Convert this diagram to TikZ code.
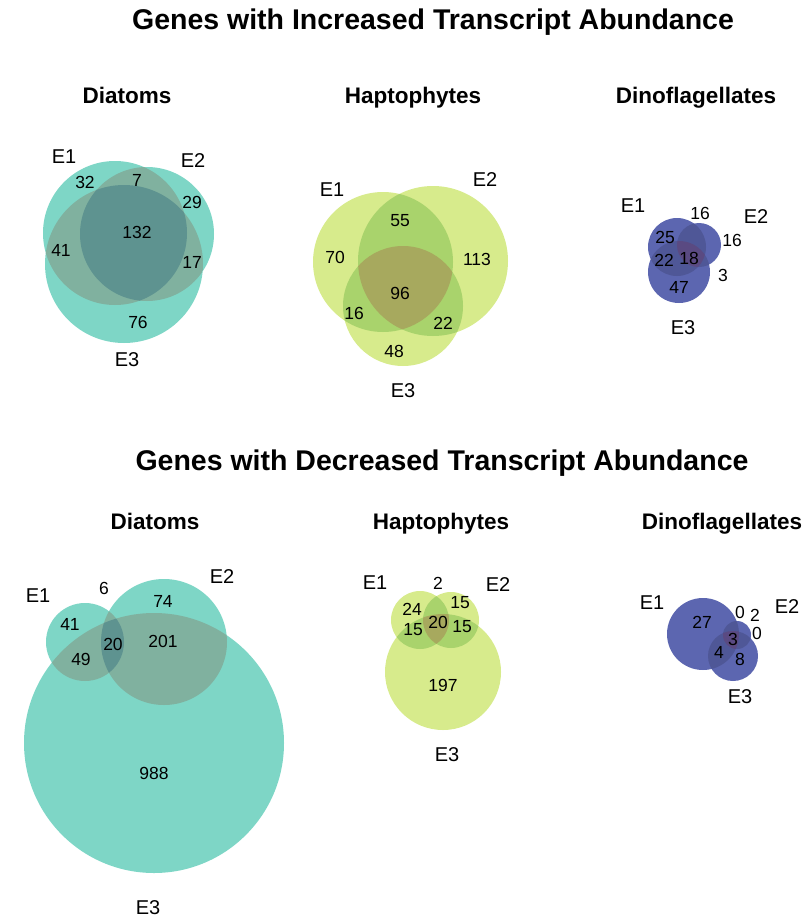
\documentclass[tikz,border=0pt]{standalone}
\usepackage{fontspec}
\setmainfont{Liberation Sans}
\definecolor{DiaSingle}{HTML}{7ED6C6}
\definecolor{DiaPair}{HTML}{80B19F}
\definecolor{DiaTriple}{HTML}{5E9390}
\definecolor{HapSingle}{HTML}{D7EB8C}
\definecolor{HapPair}{HTML}{A9D36C}
\definecolor{HapTriple}{HTML}{A7A95E}
\definecolor{DinSingle}{HTML}{5C66B0}
\definecolor{DinPair}{HTML}{4F5797}
\definecolor{DinTriple}{HTML}{5A4A82}
% three overlapping sets: centre/radius pairs, then colour prefix
\newcommand{\vennfill}[7]{%
  \fill[#7Single] #1 circle (#2) #3 circle (#4) #5 circle (#6);
  \begin{scope}\clip #1 circle (#2); \fill[#7Pair] #3 circle (#4) #5 circle (#6);\end{scope}
  \begin{scope}\clip #3 circle (#4); \fill[#7Pair] #5 circle (#6);\end{scope}
  \begin{scope}\clip #1 circle (#2); \clip #3 circle (#4); \fill[#7Triple] #5 circle (#6);\end{scope}
}

\begin{document}
\begin{tikzpicture}[x=1pt,y=-1pt,
  maintitle/.style={font=\bfseries\fontsize{28.5}{30}\selectfont,anchor=base,inner sep=0pt},
  grouptitle/.style={font=\bfseries\fontsize{22.5}{24}\selectfont,anchor=base,inner sep=0pt},
  num/.style={font=\fontsize{17.5}{18}\selectfont,inner sep=0pt},
  setlbl/.style={font=\fontsize{20}{22}\selectfont,inner sep=0pt}]
\useasboundingbox (0,0) rectangle (805,923);
% Headings of the two rows and of the three groups in each.
\node[maintitle] (inc) at (433,30) {Genes with Increased Transcript Abundance};
\node[maintitle] (dec) at (442,470) {Genes with Decreased Transcript Abundance};
\node[grouptitle] (diaup) at (127,104) {Diatoms};
\node[grouptitle] (hapup) at (413,104) {Haptophytes};
\node[grouptitle] (dinup) at (696,104) {Dinoflagellates};
\node[grouptitle] (diadn) at (155,529) {Diatoms};
\node[grouptitle] (hapdn) at (441,529) {Haptophytes};
\node[grouptitle] (dindn) at (722,529) {Dinoflagellates};

% Diatoms, increased
\vennfill{(115,233)}{72pt}{(147,234)}{67pt}{(124,264)}{79pt}{Dia}
\foreach \x/\y/\t [count=\i] in {85/182/32,137/180/7,192/202/29,137/232/132,61/250/41,192/262/17,138/322/76}
  {\node[num] (diaupn\i) at (\x,\y) {\t};}
\node[setlbl] (diaupE1) at (64,157) {E1};
\node[setlbl] (diaupE2) at (193,161) {E2};
\node[setlbl] (diaupE3) at (127,360) {E3};

% Haptophytes, increased
\vennfill{(383,262)}{70pt}{(433,261)}{75pt}{(403,306)}{60pt}{Hap}
\foreach \x/\y/\t [count=\i] in {400/221/55,335/257/70,477/259/113,400/293/96,354/313/16,443/323/22,394/351/48}
  {\node[num] (hapupn\i) at (\x,\y) {\t};}
\node[setlbl] (hapupE1) at (332,190) {E1};
\node[setlbl] (hapupE2) at (485,180) {E2};
\node[setlbl] (hapupE3) at (403,391) {E3};

% Dinoflagellates, increased
\vennfill{(677,247)}{29pt}{(699,245)}{22pt}{(679,272)}{31pt}{Din}
\foreach \x/\y/\t [count=\i] in {700/213/16,665/237/25,732/240/16,664/260/22,689/258/18,723/275/3,679/287/47}
  {\node[num] (dinupn\i) at (\x,\y) {\t};}
\node[setlbl] (dinupE1) at (633,206) {E1};
\node[setlbl] (dinupE2) at (756,217) {E2};
\node[setlbl] (dinupE3) at (683,328) {E3};

% Diatoms, decreased
\vennfill{(85,642)}{39pt}{(164,642)}{63pt}{(154,743)}{130pt}{Dia}
\foreach \x/\y/\t [count=\i] in {104/588/6,163/601/74,70/624/41,113/644/20,163/641/201,81/659/49,154/773/988}
  {\node[num] (diadnn\i) at (\x,\y) {\t};}
\node[setlbl] (diadnE1) at (38,596) {E1};
\node[setlbl] (diadnE2) at (222,577) {E2};
\node[setlbl] (diadnE3) at (148,908) {E3};

% Haptophytes, decreased
\vennfill{(420,620)}{29pt}{(451,620)}{28pt}{(443,672)}{58pt}{Hap}
\foreach \x/\y/\t [count=\i] in {438/583/2,412/609/24,460/603/15,413/630/15,438/622/20,462/627/15,443/685/197}
  {\node[num] (hapdnn\i) at (\x,\y) {\t};}
\node[setlbl] (hapdnE1) at (375,583) {E1};
\node[setlbl] (hapdnE2) at (498,585) {E2};
\node[setlbl] (hapdnE3) at (447,755) {E3};

% Dinoflagellates, decreased
\vennfill{(703,634)}{36pt}{(737,635)}{14pt}{(733,656)}{25pt}{Din}
\foreach \x/\y/\t [count=\i] in {702/622/27,740/612/0,755/615/2,757/633/0,733/639/3,719/652/4,740/659/8}
  {\node[num] (dindnn\i) at (\x,\y) {\t};}
\node[setlbl] (dindnE1) at (652,603) {E1};
\node[setlbl] (dindnE2) at (787,607) {E2};
\node[setlbl] (dindnE3) at (740,697) {E3};
\end{tikzpicture}
\end{document}
